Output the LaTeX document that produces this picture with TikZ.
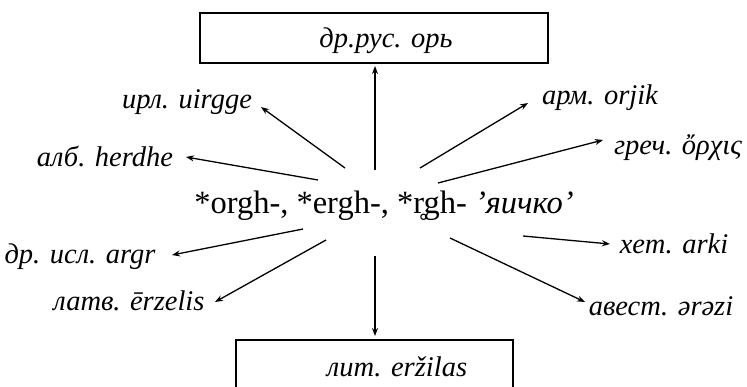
\documentclass[tikz,border=0pt]{standalone}
\usepackage{fontspec}
\setmainfont{Liberation Serif}
\usetikzlibrary{arrows.meta}
\begin{document}
\begin{tikzpicture}[x=1pt,y=-1pt,
  lbl/.style={font=\fontsize{28.5}{31}\selectfont\itshape, inner sep=0pt, anchor=base},
  box/.style={draw, line width=1.4pt},
  arr/.style={-{Stealth[length=8pt,width=6pt]}, line width=1.3pt}]
\useasboundingbox (0,0) rectangle (747,386);
% boxes
\draw[box] (200,13) rectangle (548,63);
\node[lbl] (top) at (386,47) {др.рус. орь};
\draw[box] (236,400) |- (513,340) -- (513,400);
\node[lbl] (bot) at (397,376) {лит. eržilas};
% root
\node[inner sep=0pt, anchor=base, font=\fontsize{32.5}{36}\selectfont] (root) at (384,213)
  {*orgh-, *ergh-, *r̥gh- {\itshape\char"0027 яичко\char"0027}};
% labels
\node[lbl] (irl) at (187,108) {ирл. uirgge};
\node[lbl] (alb) at (105,166) {алб. herdhe};
\node[lbl] (isl) at (80,263) {др. исл. argr};
\node[lbl] (latv) at (129,310) {латв. ērzelis};
\node[lbl] (arm) at (600,104) {арм. orjik};
\node[lbl] (gr) at (678,154) {греч. ὄρχις};
\node[lbl] (het) at (674,253) {хет. arki};
\node[lbl] (av) at (661,315) {авест. ərəzi};
% arrows from the root outwards
\coordinate (s1) at (375,170); \coordinate (e1) at (375,66);
\coordinate (s2) at (375,256); \coordinate (e2) at (375,336);
\coordinate (s3) at (345,168); \coordinate (e3) at (261,107);
\coordinate (s4) at (318,180); \coordinate (e4) at (186,157);
\coordinate (s5) at (420,168); \coordinate (e5) at (528,103);
\coordinate (s6) at (438,183); \coordinate (e6) at (603,140);
\coordinate (s7) at (303,229); \coordinate (e7) at (172,255);
\coordinate (s8) at (326,240); \coordinate (e8) at (215,302);
\coordinate (s9) at (523,236); \coordinate (e9) at (610,244);
\coordinate (s10) at (450,238); \coordinate (e10) at (585,302);
\foreach \i in {1,...,10} \draw[arr] (s\i) -- (e\i);
\end{tikzpicture}
\end{document}
